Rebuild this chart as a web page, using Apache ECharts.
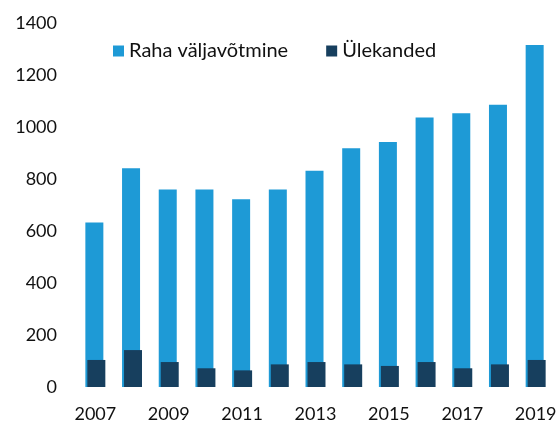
<!DOCTYPE html>
<html>
<head>
<meta charset="utf-8">
<script src="https://cdn.jsdelivr.net/npm/echarts@6/dist/echarts.min.js"></script>
<style>
  html, body { margin: 0; padding: 0; background: #fff; }
  #chart { width: 560px; height: 423px; }
</style>
</head>
<body>
<div id="chart"></div>
<script>
  var years = ["2007", "2008", "2009", "2010", "2011", "2012", "2013", "2014", "2015", "2016", "2017", "2018", "2019"];
  var rahaValjavotmine = [633, 841, 760, 760, 722, 760, 832, 918, 942, 1037, 1053, 1086, 1315];
  var ulekanded = [104, 142, 96, 72, 64, 87, 96, 87, 81, 96, 72, 87, 104];

  var myChart = echarts.init(document.getElementById("chart"));
  var option = {
    animation: false,
    textStyle: { fontFamily: "Lato" },
    grid: { left: 77, right: 6, top: 23, bottom: 36 },
    legend: {
      data: ["Raha väljavõtmine", "Ülekanded"],
      top: 36,
      left: 108,
      itemWidth: 11,
      itemHeight: 11,
      itemGap: 38,
      icon: "rect",
      textStyle: { color: "#111", fontSize: 20, fontFamily: "Lato" }
    },
    xAxis: {
      type: "category",
      data: years,
      axisLine: { show: false },
      axisTick: { show: false },
      axisLabel: { interval: 1, color: "#111", fontSize: 18, margin: 18 }
    },
    yAxis: {
      type: "value",
      min: 0,
      max: 1400,
      interval: 200,
      splitLine: { show: false },
      axisLine: { show: false },
      axisTick: { show: false },
      axisLabel: {
        color: "#111",
        fontSize: 18,
        margin: 20,
        formatter: function (v) { return String(v); }
      }
    },
    series: [
      {
        name: "Raha väljavõtmine",
        type: "bar",
        data: rahaValjavotmine,
        barWidth: 18,
        barGap: "-89%",
        itemStyle: { color: "#1E9AD6" }
      },
      {
        name: "Ülekanded",
        type: "bar",
        data: ulekanded,
        barWidth: 18,
        itemStyle: { color: "#173F5E" }
      }
    ]
  };
  myChart.setOption(option);
</script>
</body>
</html>
